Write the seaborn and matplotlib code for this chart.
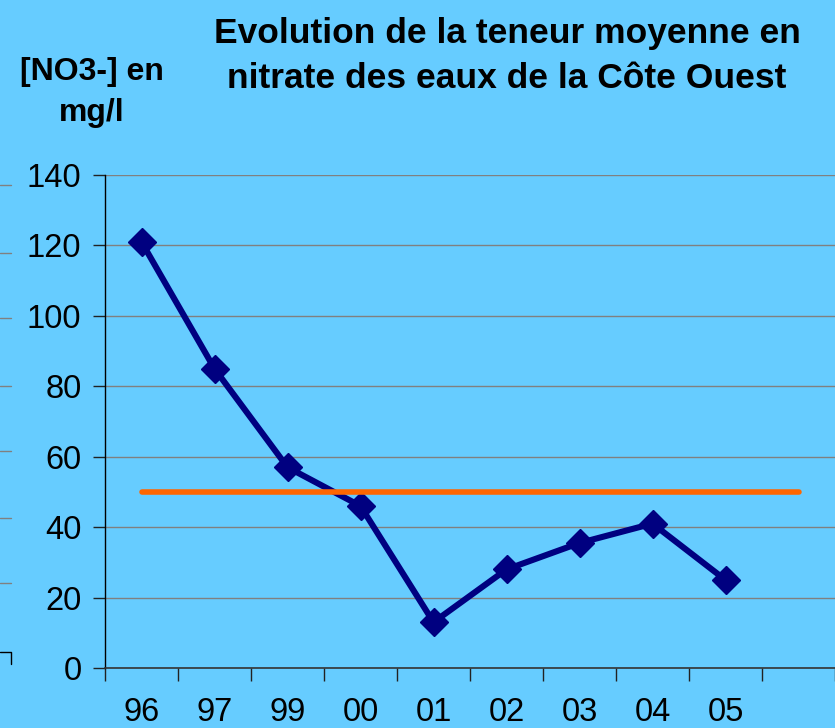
import numpy as np
import pandas as pd
import matplotlib
matplotlib.use("Agg")
import matplotlib.pyplot as plt
from matplotlib.lines import Line2D
import seaborn as sns

# ---- data ----
categories = ['96', '97', '99', '00', '01', '02', '03', '04', '05', '']
nitrate = [121, 85, 57, 46, 13, 28, 35.5, 41, 25, np.nan]
norme = [50, 50, 50, 50, 50, 50, 50, 50, 50, 50]
y_ticks = [0, 20, 40, 60, 80, 100, 120, 140]

BG = '#66CCFF'
NAVY = '#000080'
ORANGE = '#FF6600'

sns.set_style('white')
plt.rcParams['font.family'] = ['Liberation Sans', 'DejaVu Sans']

W, H = 835, 728
fig = plt.figure(figsize=(W / 100, H / 100), dpi=100)
fig.patch.set_facecolor(BG)
ax = fig.add_axes([105 / W, 60 / H, 730 / W, 493 / H])
ax.set_facecolor(BG)

idx = np.arange(len(categories))
df = pd.DataFrame({'x': idx, 'nitrate': nitrate, 'norme': norme})

sns.lineplot(data=df, x='x', y='nitrate', ax=ax, color=NAVY, lw=4.4,
             marker='D', markersize=14, markeredgecolor=NAVY,
             markerfacecolor=NAVY, markeredgewidth=1, zorder=3)
sns.lineplot(data=df, x='x', y='norme', ax=ax, color=ORANGE, lw=4,
             solid_capstyle='round', zorder=4)

ax.set_xlim(-0.5, len(categories) - 0.5)
ax.set_ylim(0, 140)
ax.set_yticks(y_ticks)
ax.set_yticklabels([str(v) for v in y_ticks])
ax.yaxis.grid(True, color='#808080', lw=1)
ax.xaxis.grid(False)

# category boundaries as major ticks, labels on minor ticks
ax.set_xticks(np.arange(len(categories) + 1) - 0.5)
ax.set_xticklabels([])
ax.set_xticks(idx, minor=True)
ax.set_xticklabels(categories, minor=True)
ax.tick_params(axis='x', which='major', length=9, width=1, color='#222222',
               direction='out', bottom=True)
ax.tick_params(axis='x', which='minor', length=0, pad=21, labelsize=23.5,
               labelcolor='black')
ax.tick_params(axis='y', length=9, width=1, color='#222222', direction='out',
               left=True, pad=8, labelsize=23.5, labelcolor='black')

ax.set_xlabel('')
ax.set_ylabel('')
for s in ['top', 'right']:
    ax.spines[s].set_visible(False)
ax.spines['left'].set_color('black')
ax.spines['left'].set_linewidth(1)
ax.spines['bottom'].set_color('#333333')
ax.spines['bottom'].set_linewidth(1.2)
if ax.get_legend() is not None:
    ax.get_legend().remove()

# titles
fig.text(507 / W, 1 - 17 / H,
         'Evolution de la teneur moyenne en\nnitrate des eaux de la Côte Ouest',
         ha='center', va='top', fontsize=25.5, fontweight='bold',
         linespacing=1.45, color='black')
fig.text(92 / W, 1 - 57 / H, '[NO3-] en\nmg/l', ha='center', va='top',
         fontsize=23, fontweight='bold', linespacing=1.5, color='black')

# stray fragments of a neighbouring chart at the left edge
for yp in [185, 253, 318, 386, 451, 518, 583]:
    fig.add_artist(Line2D([0, 11 / W], [1 - yp / H] * 2, transform=fig.transFigure,
                          color='#808080', lw=1))
fig.add_artist(Line2D([0, 11 / W, 11 / W], [1 - 652 / H, 1 - 652 / H, 1 - 664 / H],
                      transform=fig.transFigure, color='black', lw=1))

fig.savefig('out.png', dpi=100, facecolor=BG)
